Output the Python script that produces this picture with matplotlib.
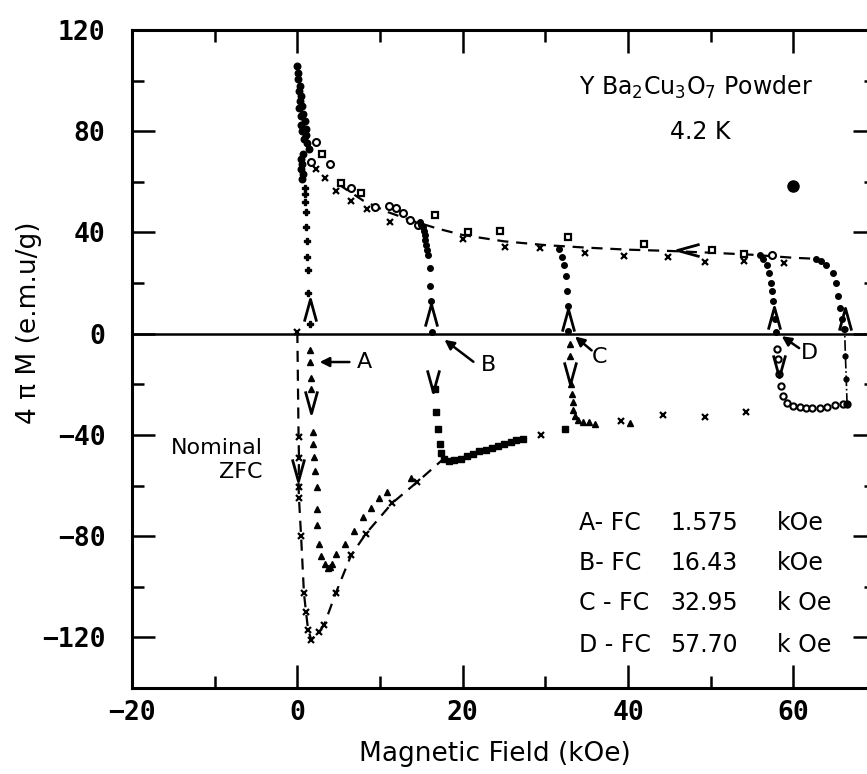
import matplotlib
matplotlib.use("Agg")
import matplotlib.pyplot as plt
from matplotlib.path import Path
from matplotlib.ticker import MultipleLocator

# ---------------- data ----------------
# nominal ZFC virgin curve (x markers, dashed)
zfc_h = [0.0, 0.15, 0.2, 0.15, 0.2, 0.45, 0.8, 1.05, 1.3, 1.7, 2.6, 3.25, 4.65, 6.5, 8.3, 11.45, 14.5]
zfc_m = [0.7, -40.9, -49, -60.5, -65, -79.8, -102.5, -110, -117, -121, -118, -115, -102.5, -87.6, -79, -67, -58.6]
zfc_end_h = [17.5]
zfc_end_m = [-50]
# high-field lower branch (x markers, no line)
low_x_h = [29.5, 39.2, 44.2, 49.3, 54.3]
low_x_m = [-40.0, -34.5, -32.3, -32.9, -30.8]
low_sq_h = [32.4]
low_sq_m = [-37.7]
low_tri_h = [40.2]
low_tri_m = [-35.2]

# upper (decreasing field) branch
up_line_h = [5, 8, 11, 14, 17, 20, 25, 30, 35, 40, 45, 50, 55, 60, 62.7]
up_line_m = [59, 52.5, 48, 44.5, 41.5, 39, 36.5, 35, 34, 33.2, 32.7, 32, 31.2, 30, 29.6]
up_x_h = [2.3, 3.3, 4.7, 6.5, 8.4, 11.2, 20.0, 25.1, 29.3, 34.8, 39.5, 44.8, 49.3, 54.0, 58.9]
up_x_m = [65, 61.5, 56.5, 52.5, 49.4, 44.3, 37.6, 34.4, 33.8, 31.8, 30.8, 30.5, 28.3, 28.7, 28]
up_sq_h = [3.0, 5.3, 7.7, 16.6, 20.7, 24.5, 32.8, 41.9, 50.2, 54.0]
up_sq_m = [71, 59.7, 55.7, 46.9, 40.3, 40.7, 38.3, 35.3, 33, 31.4]
up_o_h = [1.6, 2.2, 3.9, 6.5, 9.4, 11.1, 11.9, 12.8, 13.6, 14.6, 57.4]
up_o_m = [68, 75.7, 67, 57.5, 50.2, 50.5, 49.8, 47.5, 45, 43, 31]
# dense column at low field
col_h = [0.0, 0.1, 0.1, 0.3, 0.2, 0.5, 0.3, 0.6, 0.2, 0.7, 0.4, 0.9, 0.5, 1.0, 0.6,
         1.1, 0.8, 1.2, 1.4, 0.7, 0.5, 0.6, 0.5, 0.7, 0.6]
col_m = [105.6, 103, 100.5, 98, 96, 94, 92, 90, 89, 87, 86, 84, 82.5, 81, 80,
         78.5, 77, 75.5, 73, 71, 69, 67, 65, 63, 61]

# A : FC 1.575 kOe
a_up_h = [1.5, 1.35, 1.25, 1.2, 1.2, 1.1, 1.0, 0.95, 0.95, 0.9]
a_up_m = [4, 16, 25, 30.5, 36.8, 42, 48, 52, 55, 57.7]
a_dn_h = [1.5, 1.5, 1.6, 1.7, 1.85, 1.95, 2.05, 2.15, 2.35, 2.4, 2.35, 2.6, 2.9,
          3.4, 3.7, 4.0, 4.2, 4.7, 5.8, 6.8, 8.0, 8.9, 9.9, 10.9, 13.8]
a_dn_m = [-6.4, -11, -17.4, -22, -39, -43.7, -48.8, -54.3, -60.6, -69.3, -75.6, -83, -87.7,
          -91, -92.5, -92, -91, -87, -83, -78, -72.6, -68.7, -64.8, -62.5, -57]
# B : FC 16.43 kOe
b_up_h = [16.3, 16.2, 16.1, 16.0, 15.8, 15.7, 15.6, 15.5, 15.4, 15.3, 15.2, 15.0, 14.8]
b_up_m = [0.5, 12.8, 19, 26, 31, 33, 35, 37, 39, 40.5, 42, 43, 44]
b_dn_h = [16.6, 16.8, 17.0, 17.2, 17.4, 17.8, 18.3, 19.0, 19.8, 20.5, 21.3, 22.0, 22.8,
          23.5, 24.3, 25.0, 25.8, 26.5, 27.3]
b_dn_m = [-22, -31, -37.5, -43.5, -47, -49.5, -50.5, -50, -49.5, -48.5, -47.5, -46.5, -45.8,
          -45, -44.3, -43.5, -42.8, -42.2, -41.5]
# C : FC 32.95 kOe
c_up_h = [32.8, 32.7, 32.6, 32.5, 32.3, 32.0, 31.7]
c_up_m = [1, 11, 17, 22.6, 27, 30.5, 33.6]
c_dn_h = [33.0, 33.0, 33.1, 33.2, 33.3, 33.4, 33.6, 34.0, 34.6, 35.3, 36.0]
c_dn_m = [-4, -9, -20, -24, -27, -30, -32.5, -34, -35, -35, -35.5]
# D : FC 57.70 kOe
d_up_h = [57.9, 57.8, 57.6, 57.4, 57.3, 57.1, 56.8, 56.3, 56.0]
d_up_m = [0.5, 6, 13, 17, 20, 24, 27, 29.5, 31]
d_dn_h = [58.0, 58.1, 58.3, 58.5, 58.8, 59.2, 60.0, 60.8, 61.5, 62.3, 63.2, 64.1, 65.1, 66.0, 66.5]
d_dn_m = [-6, -10, -16, -20.6, -24.5, -27.3, -28.5, -29, -29.3, -29.3, -29.3, -28.8, -28, -27.7, -27.7]
# maximum field turn-around
rv_h = [66.5, 66.4, 66.3, 66.2]
rv_m = [-27.7, -17.8, -8.8, 1.8]
rc_h = [66.1, 65.9, 65.7, 65.4, 65.2, 64.8, 64.0, 63.3, 62.7]
rc_m = [1.8, 6, 10, 15, 20, 24, 27.3, 28.8, 29.6]

# direction chevrons
arr_up_h = [1.5, 16.2, 32.8, 57.7, 66.2]
arr_up_m = [9.3, 7.2, 5.3, 6.2, 5.7]
arr_dn_h = [0.1, 1.6, 16.4, 33.0, 58.3]
arr_dn_m = [-54, -27, -18.7, -15.5, -12.7]
arr_lf_h = [47.2]
arr_lf_m = [33]

xticks = [-20, 0, 20, 40, 60]
xtick_labels = ["−20", "0", "20", "40", "60"]
yticks = [-120, -80, -40, 0, 40, 80, 120]
ytick_labels = ["−120", "−80", "−40", "0", "40", "80", "120"]

legend_tags = ["A- FC", "B- FC", "C - FC", "D - FC"]
legend_vals = ["1.575", "16.43", "32.95", "57.70"]
legend_unit = ["kOe", "kOe", "k Oe", "k Oe"]

# ---------------- figure ----------------
fig = plt.figure(figsize=(8.67, 7.74), dpi=100)
fig.patch.set_facecolor("white")
ax = fig.add_axes([132 / 867, 1 - 688 / 774, 744 / 867, 658 / 774])
ax.set_xlim(-20, 70)
ax.set_ylim(-140, 120)

K = "black"
dash = (0, (5, 3.5))

ax.axhline(0, color=K, lw=1.8, zorder=2)

# ZFC
ax.plot(zfc_h + zfc_end_h, zfc_m + zfc_end_m, ls=dash, color=K, lw=1.6)
ax.plot(zfc_h, zfc_m, ls="none", marker="x", ms=5, mew=1.6, color=K)
ax.plot(low_x_h, low_x_m, ls="none", marker="x", ms=5, mew=1.6, color=K)
ax.plot(low_sq_h, low_sq_m, ls="none", marker="s", ms=4, color=K)
ax.plot(low_tri_h, low_tri_m, ls="none", marker="^", ms=4.5, color=K)

# upper branch
ax.plot(up_line_h, up_line_m, ls=dash, color=K, lw=1.6)
ax.plot(up_x_h, up_x_m, ls="none", marker="x", ms=5, mew=1.6, color=K)
ax.plot(up_sq_h, up_sq_m, ls="none", marker="s", ms=4.5, mfc="white", mew=1.6, color=K)
ax.plot(up_o_h, up_o_m, ls="none", marker="o", ms=5, mfc="white", mew=1.5, color=K)
ax.plot(col_h, col_m, ls="none", marker="o", ms=4.5, mew=1.2, color=K)

# A
ax.plot(a_up_h, a_up_m, ls="none", marker="P", ms=4, color=K)
ax.plot(a_dn_h, a_dn_m, ls="none", marker="^", ms=4.5, color=K)
# B
ax.plot(b_up_h, b_up_m, ls="none", marker="o", ms=4, color=K)
ax.plot(b_dn_h, b_dn_m, ls="none", marker="s", ms=4, color=K)
# C
ax.plot(c_up_h, c_up_m, ls="none", marker="o", ms=4, color=K)
ax.plot(c_dn_h, c_dn_m, ls="none", marker="^", ms=4.5, color=K)
# D
ax.plot(d_up_h, d_up_m, ls="none", marker="o", ms=4, color=K)
ax.plot(d_dn_h, d_dn_m, ls="none", marker="o", ms=4.5, mfc="white", mew=1.5, color=K)
# turn-around at max field
ax.plot(rv_h, rv_m, ls="-.", lw=1.2, marker="o", ms=3.5, color=K)
ax.plot(rc_h, rc_m, ls="none", marker="o", ms=4, color=K)

# chevron arrows
up_chev = Path([(-0.55, -1), (0, 1), (0.55, -1)], [Path.MOVETO, Path.LINETO, Path.LINETO])
dn_chev = Path([(-0.55, 1), (0, -1), (0.55, 1)], [Path.MOVETO, Path.LINETO, Path.LINETO])
lf_chev = Path([(1, 0.55), (-1, 0), (1, -0.55)], [Path.MOVETO, Path.LINETO, Path.LINETO])
ax.plot(arr_up_h, arr_up_m, ls="none", marker=up_chev, ms=16, mfc="none", mec=K, mew=2)
ax.plot(arr_dn_h, arr_dn_m, ls="none", marker=dn_chev, ms=16, mfc="none", mec=K, mew=2)
ax.plot(arr_lf_h, arr_lf_m, ls="none", marker=lf_chev, ms=16, mfc="none", mec=K, mew=2)

# ink blot
ax.plot([59.9], [58.2], ls="none", marker="o", ms=8, color=K)

# labels with arrows
tf = dict(fontsize=16, family="DejaVu Sans", color=K)
aprops = dict(arrowstyle="-|>", color=K, lw=1.8, mutation_scale=14, shrinkA=0, shrinkB=0)
ax.annotate("", xy=(2.7, -11.2), xytext=(6.3, -11.2), arrowprops=aprops)
ax.text(8.1, -11.2, "A", ha="center", va="center", **tf)
ax.annotate("", xy=(17.8, -2.4), xytext=(21.3, -11.1), arrowprops=aprops)
ax.text(23.1, -12.2, "B", ha="center", va="center", **tf)
ax.annotate("", xy=(33.6, -1.1), xytext=(35.6, -6.6), arrowprops=aprops)
ax.text(36.6, -9.2, "C", ha="center", va="center", **tf)
ax.annotate("", xy=(58.6, -1.0), xytext=(60.7, -5.7), arrowprops=aprops)
ax.text(61.9, -7.8, "D", ha="center", va="center", **tf)

ax.text(-4.2, -49.8, "Nominal\nZFC", ha="right", va="center", multialignment="right",
        linespacing=1.25, **tf)

ax.text(48.2, 97.5, "Y Ba$_2$Cu$_3$O$_7$ Powder", ha="center", va="center",
        fontsize=17, family="DejaVu Sans", color=K)
ax.text(48.7, 79.7, "4.2 K", ha="center", va="center", fontsize=17, family="DejaVu Sans", color=K)

legend_y = [-74.8, -90.6, -106.4, -123.0]
for tag, val, unit, yy in zip(legend_tags, legend_vals, legend_unit, legend_y):
    ax.text(34.1, yy, tag, ha="left", va="center", fontsize=17, family="DejaVu Sans", color=K)
    ax.text(53.3, yy, val, ha="right", va="center", fontsize=17, family="DejaVu Sans", color=K)
    ax.text(58.0, yy, unit, ha="left", va="center", fontsize=17, family="DejaVu Sans", color=K)

# axes styling
for s in ax.spines.values():
    s.set_linewidth(2.2)
ax.set_xticks(xticks, xtick_labels, fontfamily="DejaVu Sans Mono", fontweight="bold", fontsize=19)
ax.set_yticks(yticks, ytick_labels, fontfamily="DejaVu Sans Mono", fontweight="bold", fontsize=19)
ax.xaxis.set_minor_locator(MultipleLocator(10))
ax.yaxis.set_minor_locator(MultipleLocator(20))
ax.tick_params(which="major", direction="in", length=16.5, width=1.8, top=True, right=True)
ax.tick_params(which="minor", direction="in", length=8.6, width=1.8, top=True, right=True)
ax.tick_params(axis="x", which="major", pad=9)
ax.tick_params(axis="y", which="major", pad=19)

ax.set_xlabel("Magnetic Field (kOe)", fontsize=19, family="DejaVu Sans")
ax.xaxis.set_label_coords(0.488, -0.08)
ax.set_ylabel("4 π M (e.m.u/g)", fontsize=19, family="DejaVu Sans")
ax.yaxis.set_label_coords(-0.121, 0.555)

fig.savefig("out.png", dpi=100, facecolor="white")
